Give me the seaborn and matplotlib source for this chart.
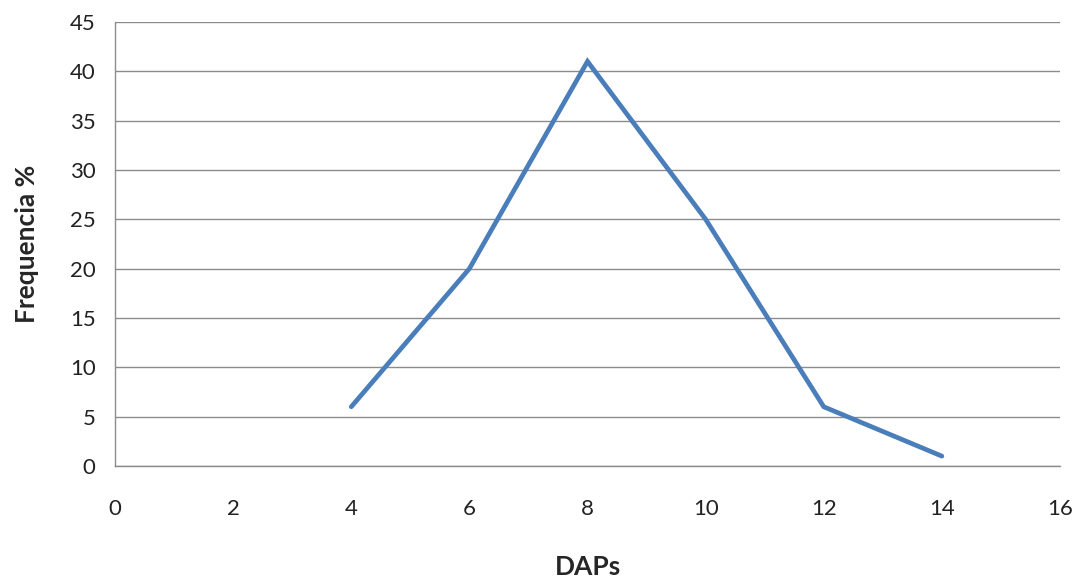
import matplotlib
matplotlib.use("Agg")
import matplotlib.pyplot as plt
import seaborn as sns
import pandas as pd

# Diameter classes (DAP) and relative frequency (%)
daps = [4, 6, 8, 10, 12, 14]
frequencia = [6, 20, 41, 25, 6, 1]

x_ticks = [0, 2, 4, 6, 8, 10, 12, 14, 16]
y_ticks = [0, 5, 10, 15, 20, 25, 30, 35, 40, 45]

sns.set_theme(style="white")
plt.rcParams["font.family"] = ["Lato", "DejaVu Sans"]

df = pd.DataFrame({"DAPs": daps, "Frequencia": frequencia})

fig = plt.figure(figsize=(10.77, 5.78), dpi=100)
ax = fig.add_axes([0.1068, 0.1938, 0.8774, 0.7682])

sns.lineplot(data=df, x="DAPs", y="Frequencia", ax=ax,
             color="#4a7ebb", linewidth=3.4, solid_capstyle="round",
             solid_joinstyle="miter")

ax.set_xlim(0, 16)
ax.set_ylim(0, 45)
ax.set_xticks(x_ticks)
ax.set_yticks(y_ticks)
ax.yaxis.grid(True, color="#8c8c8c", linewidth=1.0)
ax.xaxis.grid(False)
ax.set_axisbelow(True)

for side in ["top", "right"]:
    ax.spines[side].set_visible(False)
for side in ["left", "bottom"]:
    ax.spines[side].set_color("#8c8c8c")
    ax.spines[side].set_linewidth(1.0)

ax.tick_params(axis="both", length=0, labelsize=16, colors="#222222")
ax.tick_params(axis="x", pad=24)
ax.tick_params(axis="y", pad=14)

ax.set_xlabel("DAPs", fontsize=19, fontweight="bold", labelpad=26)
ax.set_ylabel("Frequencia %", fontsize=19, fontweight="bold", labelpad=22)

fig.savefig("out.png", dpi=100)
